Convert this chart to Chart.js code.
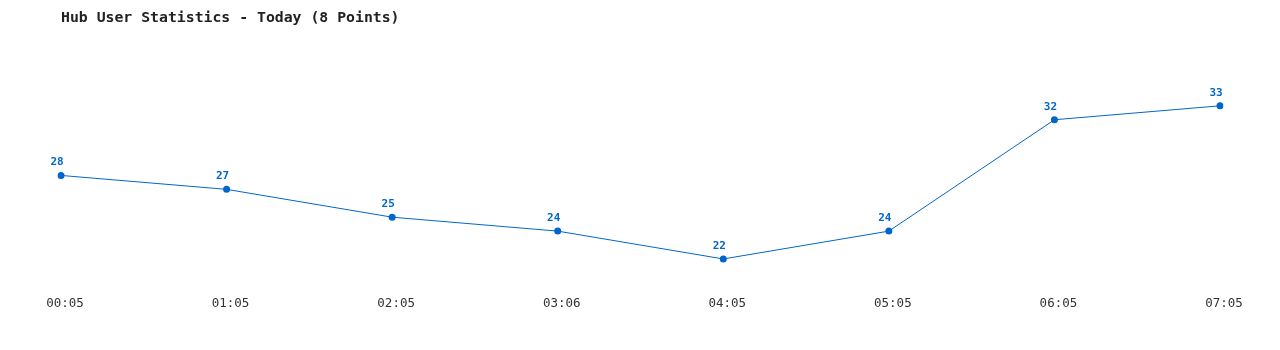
<!DOCTYPE html>
<html>
<head>
<meta charset="utf-8">
<script src="https://cdn.jsdelivr.net/npm/chart.js@4/dist/chart.umd.min.js"></script>
<style>
html,body{margin:0;padding:0;background:#fff;}
#wrap{width:1280px;height:350px;position:relative;}
</style>
</head>
<body>
<div id="wrap"><canvas id="c"></canvas></div>
<script>
const titleText = "Hub User Statistics - Today (8 Points)";
const categories = ["00:05","01:05","02:05","03:06","04:05","05:05","06:05","07:05"];
const users = [28, 27, 25, 24, 22, 24, 32, 33];
const yMin = 20;
const yMax = 36;

const valueLabels = {
  id: 'valueLabels',
  afterDatasetsDraw(chart) {
    const ctx = chart.ctx;
    const meta = chart.getDatasetMeta(0);
    ctx.save();
    ctx.font = 'bold 11px "DejaVu Sans Mono", monospace';
    ctx.fillStyle = '#0066cc';
    ctx.textAlign = 'center';
    ctx.textBaseline = 'middle';
    meta.data.forEach((pt, i) => {
      ctx.fillText(String(chart.data.datasets[0].data[i]), pt.x - 4, pt.y - 13);
    });
    ctx.restore();
  }
};

new Chart(document.getElementById('c'), {
  type: 'line',
  data: {
    labels: categories,
    datasets: [{
      data: users,
      borderColor: '#0066cc',
      backgroundColor: '#0066cc',
      borderWidth: 1,
      pointRadius: 3.5,
      pointHoverRadius: 3.5,
      pointBackgroundColor: '#0066cc',
      pointBorderWidth: 0,
      tension: 0,
      fill: false
    }]
  },
  options: {
    responsive: true,
    maintainAspectRatio: false,
    animation: false,
    layout: { padding: { left: 61, right: 60, top: 0, bottom: 37 } },
    plugins: {
      legend: { display: false },
      tooltip: { enabled: false },
      title: {
        display: true,
        text: titleText,
        align: 'start',
        color: '#222',
        font: { family: '"DejaVu Sans Mono", monospace', size: 14.8, weight: 'bold' },
        padding: { top: 9, bottom: 37.3 }
      }
    },
    scales: {
      x: {
        offset: false,
        grid: { display: false },
        border: { display: false },
        ticks: {
          color: '#333',
          padding: 1.6,
          labelOffset: 4,
          maxRotation: 0,
          autoSkip: false,
          font: { family: '"DejaVu Sans Mono", monospace', size: 12.5 }
        }
      },
      y: {
        display: false,
        min: yMin,
        max: yMax
      }
    }
  },
  plugins: [valueLabels]
});
</script>
</body>
</html>
